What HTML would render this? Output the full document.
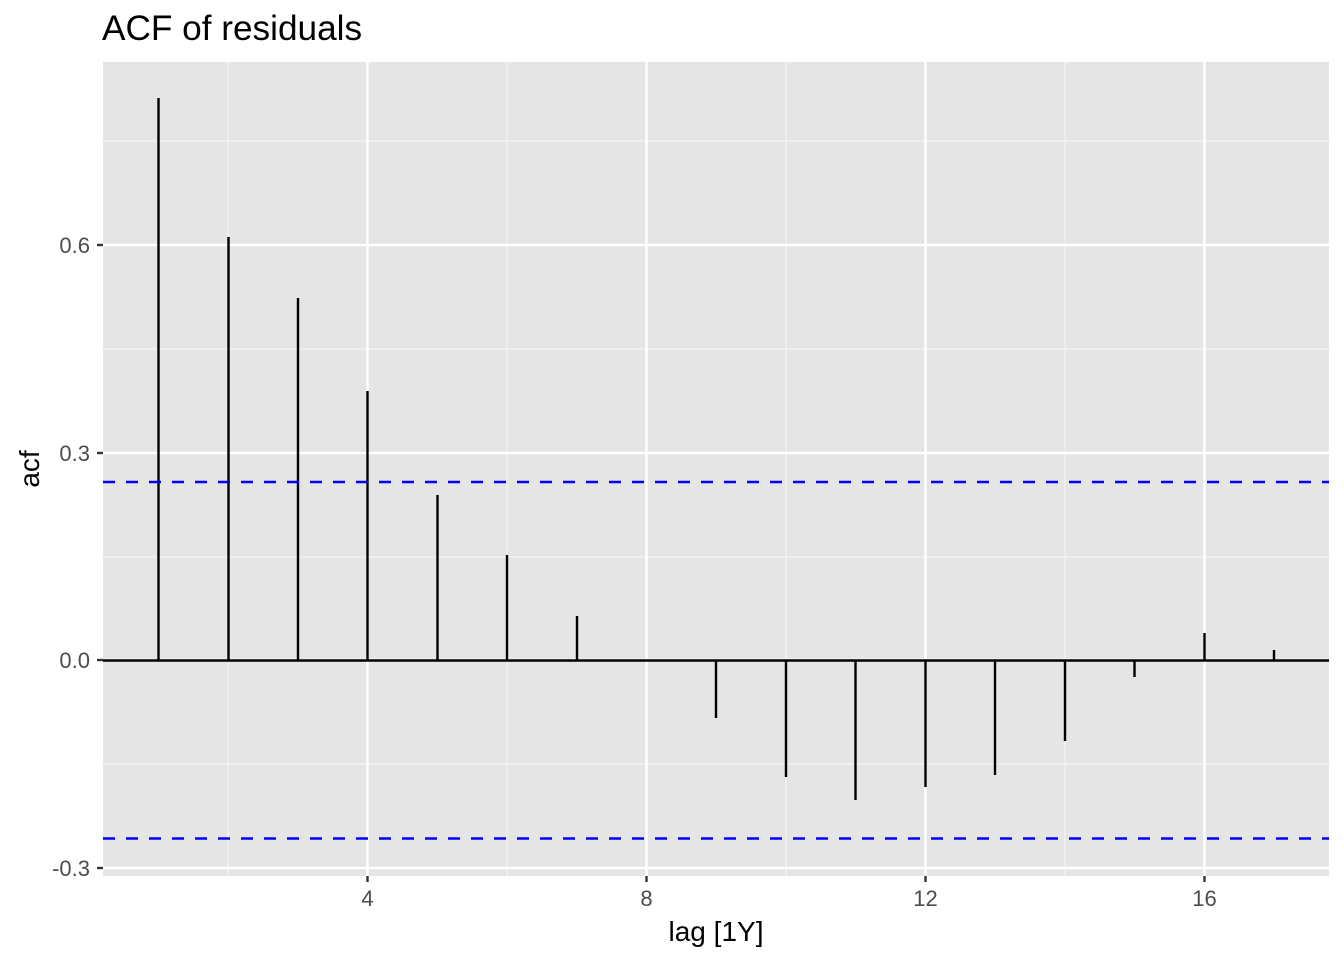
<!DOCTYPE html>
<html><head><meta charset="utf-8"><style>
html,body{margin:0;padding:0;background:#fff;}
svg{display:block;font-family:"Liberation Sans",Arial,sans-serif;}
</style></head><body>
<svg width="1344" height="960" viewBox="0 0 1344 960" xmlns="http://www.w3.org/2000/svg">
<rect x="0" y="0" width="1344" height="960" fill="#fff"/>
<rect x="103" y="62" width="1226" height="814" fill="#e5e5e5"/>
<g stroke="#f5f5f5" stroke-width="1.2">
<line x1="103" x2="1329" y1="764" y2="764"/>
<line x1="103" x2="1329" y1="557" y2="557"/>
<line x1="103" x2="1329" y1="349" y2="349"/>
<line x1="103" x2="1329" y1="141" y2="141"/>
<line y1="62" y2="876" x1="228" x2="228"/>
<line y1="62" y2="876" x1="507" x2="507"/>
<line y1="62" y2="876" x1="786" x2="786"/>
<line y1="62" y2="876" x1="1065" x2="1065"/>
</g>
<g stroke="#fff" stroke-width="2.4">
<line x1="103" x2="1329" y1="868" y2="868"/>
<line x1="103" x2="1329" y1="660" y2="660"/>
<line x1="103" x2="1329" y1="453" y2="453"/>
<line x1="103" x2="1329" y1="245" y2="245"/>
<line y1="62" y2="876" x1="367.5" x2="367.5"/>
<line y1="62" y2="876" x1="646.5" x2="646.5"/>
<line y1="62" y2="876" x1="925.5" x2="925.5"/>
<line y1="62" y2="876" x1="1204.5" x2="1204.5"/>
</g>
<g stroke="#000" stroke-width="2.4">
<line x1="103" x2="1329" y1="660.5" y2="660.5"/>
<line x1="158.5" x2="158.5" y1="98" y2="660"/>
<line x1="228.5" x2="228.5" y1="237" y2="660"/>
<line x1="298" x2="298" y1="298" y2="660"/>
<line x1="367.5" x2="367.5" y1="391" y2="660"/>
<line x1="437.5" x2="437.5" y1="495" y2="660"/>
<line x1="507" x2="507" y1="555" y2="660"/>
<line x1="577" x2="577" y1="616" y2="660"/>
<line x1="716" x2="716" y1="660" y2="718"/>
<line x1="786" x2="786" y1="660" y2="777"/>
<line x1="855.5" x2="855.5" y1="660" y2="800"/>
<line x1="925.5" x2="925.5" y1="660" y2="787"/>
<line x1="995" x2="995" y1="660" y2="775"/>
<line x1="1065" x2="1065" y1="660" y2="741"/>
<line x1="1134.5" x2="1134.5" y1="660" y2="677"/>
<line x1="1204.5" x2="1204.5" y1="633" y2="660"/>
<line x1="1274" x2="1274" y1="650" y2="660"/>
</g>
<g stroke="#0000ff" stroke-width="2.4" stroke-dasharray="12,11">
<line x1="103" x2="1329" y1="482" y2="482"/>
<line x1="103" x2="1329" y1="838.5" y2="838.5"/>
</g>
<g stroke="#333" stroke-width="2.4">
<line x1="97" x2="103" y1="868" y2="868"/>
<line x1="97" x2="103" y1="660" y2="660"/>
<line x1="97" x2="103" y1="453" y2="453"/>
<line x1="97" x2="103" y1="245" y2="245"/>
<line y1="876" y2="882" x1="367.5" x2="367.5"/>
<line y1="876" y2="882" x1="646.5" x2="646.5"/>
<line y1="876" y2="882" x1="925.5" x2="925.5"/>
<line y1="876" y2="882" x1="1204.5" x2="1204.5"/>
</g>
<g fill="#4d4d4d" font-size="22" text-anchor="end">
<text x="90" y="876">-0.3</text>
<text x="90" y="668">0.0</text>
<text x="90" y="461">0.3</text>
<text x="90" y="253">0.6</text>
</g>
<g fill="#4d4d4d" font-size="22" text-anchor="middle">
<text x="367.5" y="906">4</text>
<text x="646.5" y="906">8</text>
<text x="925.5" y="906">12</text>
<text x="1204.5" y="906">16</text>
</g>
<text x="716" y="941" font-size="28" text-anchor="middle" fill="#000">lag [1Y]</text>
<text transform="translate(39,469) rotate(-90)" font-size="28" text-anchor="middle" fill="#000">acf</text>
<text x="102" y="40" font-size="35.2" fill="#000">ACF of residuals</text>
</svg>
</body></html>
